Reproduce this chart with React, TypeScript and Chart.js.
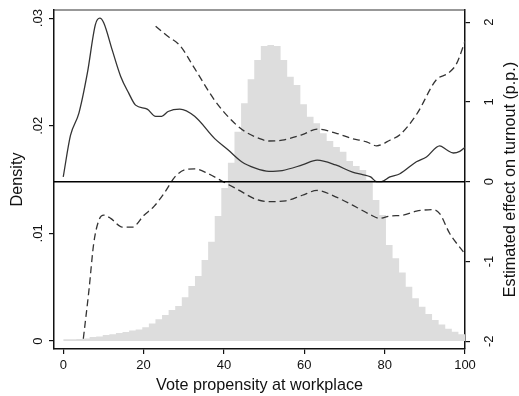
import React, { useEffect, useRef } from "react";
import { Chart, registerables } from "chart.js";

Chart.register(...registerables);

const FONT = '"Liberation Sans", Arial, Helvetica, sans-serif';

// Histogram of vote propensity at workplace (density, left axis)
const binCount = 61;
const binStart = 0;
const binEnd = 100;
const densityValues = [
  0.00016, 0.00016, 0.00019, 0.00023, 0.00037, 0.00042, 0.00056, 0.00062, 0.00074, 0.00084,
  0.00098, 0.00107, 0.00127, 0.00163, 0.00202, 0.00242, 0.00288, 0.00325, 0.00406, 0.00511,
  0.00604, 0.00753, 0.00923, 0.01162, 0.01422, 0.01657, 0.01945, 0.02209, 0.02432, 0.02612,
  0.02742, 0.02751, 0.02742, 0.02612, 0.02456, 0.02379, 0.02200, 0.02085, 0.02023, 0.01930,
  0.01859, 0.01803, 0.01759, 0.01673, 0.01626, 0.01589, 0.01496, 0.01310, 0.01171, 0.00892,
  0.00769, 0.00637, 0.00505, 0.00397, 0.00319, 0.00251, 0.00195, 0.00153, 0.00114, 0.00086,
  0.00062,
];

// Estimated effect on turnout (p.p., right axis)
const effectX = [0, 1.8, 3.9, 6.0, 8.0, 9.1, 10.1, 12.2, 14.3, 16.3, 18.0, 20.9, 23.0, 24.5, 26.1, 29.0, 32.7, 37.7, 41.0, 44.4, 47.8, 51.2, 54.5, 59.5, 63.2, 67.8, 72.0, 74.5, 76.5, 78.0, 79.2, 81.3, 83.8, 87.9, 90.4, 93.7, 95.4, 97.1, 98.7, 100];
const effectY = [0.06, 0.58, 0.86, 1.36, 1.97, 2.05, 1.99, 1.65, 1.32, 1.11, 0.96, 0.91, 0.82, 0.82, 0.88, 0.91, 0.82, 0.54, 0.40, 0.25, 0.17, 0.13, 0.14, 0.21, 0.27, 0.21, 0.12, 0.09, 0.06, 0.0, 0.0, 0.06, 0.10, 0.25, 0.31, 0.45, 0.40, 0.36, 0.38, 0.43];

const upperX = [23.0, 26.1, 29.0, 32.7, 37.7, 41.9, 45.2, 48.9, 51.2, 54.5, 59.5, 63.2, 67.8, 72.0, 75.5, 78.0, 81.3, 83.8, 87.9, 92.9, 95.8, 97.9, 100];
const upperY = [1.95, 1.82, 1.71, 1.42, 1.02, 0.77, 0.63, 0.54, 0.51, 0.52, 0.59, 0.66, 0.61, 0.54, 0.50, 0.45, 0.52, 0.59, 0.84, 1.28, 1.36, 1.48, 1.76];

const lowerX = [5.0, 6.4, 7.6, 8.9, 10.1, 11.8, 14.7, 17.2, 20.1, 22.6, 25.3, 27.8, 30.3, 32.7, 36.1, 39.4, 43.5, 47.9, 51.2, 55.4, 59.5, 63.2, 67.8, 73.0, 76.3, 78.8, 81.3, 84.6, 87.9, 92.1, 93.7, 96.2, 99.6];
const lowerY = [-1.97, -1.36, -0.77, -0.48, -0.42, -0.46, -0.57, -0.57, -0.42, -0.31, -0.13, 0.06, 0.15, 0.16, 0.10, 0.01, -0.10, -0.22, -0.25, -0.24, -0.17, -0.11, -0.19, -0.32, -0.41, -0.46, -0.43, -0.42, -0.37, -0.35, -0.40, -0.65, -0.88];

// Axes
const xMin = -2.3;
const xMax = 100;
const xTicks = [0, 20, 40, 60, 80, 100];
const xTickLabels = ["0", "20", "40", "60", "80", "100"];
const leftMin = -0.00074;
const leftMax = 0.03076;
const leftTicks = [0, 0.01, 0.02, 0.03];
const leftTickLabels = ["0", ".01", ".02", ".03"];
const rightMin = -2.098;
const rightMax = 2.153;
const rightTicks = [-2, -1, 0, 1, 2];
const rightTickLabels = ["-2", "-1", "0", "1", "2"];
const xTitle = "Vote propensity at workplace";
const leftTitle = "Density";
const rightTitle = "Estimated effect on turnout (p.p.)";

const pts = (xs: number[], ys: number[]) => xs.map((x, i) => ({ x, y: ys[i] }));

const textPlugin = {
  id: "stataText",
  afterDraw(chart: any) {
    const { ctx, chartArea, scales } = chart;
    const { left, right, top, bottom } = chartArea;
    ctx.save();
    // top frame line
    ctx.strokeStyle = "#333";
    ctx.lineWidth = 1.2;
    ctx.beginPath();
    ctx.moveTo(left, top);
    ctx.lineTo(right, top);
    ctx.stroke();

    ctx.fillStyle = "#111";
    ctx.textBaseline = "alphabetic";
    ctx.textAlign = "center";
    ctx.font = `13px ${FONT}`;
    xTicks.forEach((v, i) => {
      ctx.fillText(xTickLabels[i], scales.x.getPixelForValue(v), bottom + 20.3);
    });
    const rot = (txt: string, x: number, y: number) => {
      ctx.save();
      ctx.translate(x, y);
      ctx.rotate(-Math.PI / 2);
      ctx.fillText(txt, 0, 0);
      ctx.restore();
    };
    leftTicks.forEach((v, i) => rot(leftTickLabels[i], left - 12.2, scales.y.getPixelForValue(v)));
    rightTicks.forEach((v, i) => rot(rightTickLabels[i], right + 28, scales.y2.getPixelForValue(v)));

    ctx.font = `16.2px ${FONT}`;
    const midY = (top + bottom) / 2;
    ctx.fillText(xTitle, (left + right) / 2, 390);
    rot(leftTitle, 21.5, midY);
    rot(rightTitle, 515, midY);
    ctx.restore();
  },
};

export default function App() {
  const ref = useRef<HTMLCanvasElement>(null);
  useEffect(() => {
    const w = (binEnd - binStart) / binCount;
    // histogram drawn as a stepped, filled outline over the bin edges:
    // each bin's height spans from its left edge to the next edge
    const histPoints = densityValues.map((d, i) => ({ x: binStart + w * i, y: d }));
    histPoints.push({ x: binEnd, y: densityValues[densityValues.length - 1] });
    const axisGrid = {
      drawOnChartArea: false,
      drawTicks: true,
      tickLength: 5,
      color: "#111",
      lineWidth: 1.2,
      offset: false,
    };
    const axisBorder = { display: true, color: "#111", width: 1.5 };
    const chart = new Chart(ref.current as HTMLCanvasElement, {
      type: "line",
      data: {
        datasets: [
          {
            label: "zero",
            data: [{ x: xMin, y: 0 }, { x: xMax, y: 0 }],
            yAxisID: "y2",
            borderColor: "#000",
            borderWidth: 1.6,
            pointRadius: 0,
            order: 0,
          },
          {
            label: "Effect",
            data: pts(effectX, effectY),
            yAxisID: "y2",
            borderColor: "#333",
            borderWidth: 1.3,
            pointRadius: 0,
            cubicInterpolationMode: "monotone",
            order: 1,
          },
          {
            label: "Upper CI",
            data: pts(upperX, upperY),
            yAxisID: "y2",
            borderColor: "#333",
            borderWidth: 1.3,
            borderDash: [7, 4],
            pointRadius: 0,
            cubicInterpolationMode: "monotone",
            order: 2,
          },
          {
            label: "Lower CI",
            data: pts(lowerX, lowerY),
            yAxisID: "y2",
            borderColor: "#333",
            borderWidth: 1.3,
            borderDash: [7, 4],
            pointRadius: 0,
            cubicInterpolationMode: "monotone",
            order: 3,
          },
          {
            label: "Density",
            data: histPoints,
            yAxisID: "y",
            stepped: "before",
            fill: "origin",
            backgroundColor: "#dddddd",
            borderColor: "rgba(0,0,0,0)",
            borderWidth: 0,
            pointRadius: 0,
            order: 10,
          },
        ],
      } as any,
      options: {
        animation: false,
        responsive: false,
        devicePixelRatio: 1,
        layout: { padding: { top: 10, left: 0, right: 0, bottom: 0 } },
        plugins: { legend: { display: false }, tooltip: { enabled: false }, filler: { propagate: false } },
        scales: {
          x: {
            type: "linear",
            position: "bottom",
            min: xMin,
            max: xMax,
            offset: false,
            grid: axisGrid,
            border: axisBorder,
            ticks: { display: false },
            afterBuildTicks: (s: any) => {
              s.ticks = xTicks.map((v) => ({ value: v }));
            },
            afterFit: (s: any) => {
              s.height = 47;
            },
          },
          y: {
            type: "linear",
            position: "left",
            min: leftMin,
            max: leftMax,
            grid: axisGrid,
            border: axisBorder,
            ticks: { display: false },
            afterBuildTicks: (s: any) => {
              s.ticks = leftTicks.map((v) => ({ value: v }));
            },
            afterFit: (s: any) => {
              s.width = 54;
            },
          },
          y2: {
            type: "linear",
            position: "right",
            min: rightMin,
            max: rightMax,
            grid: axisGrid,
            border: axisBorder,
            ticks: { display: false },
            afterBuildTicks: (s: any) => {
              s.ticks = rightTicks.map((v) => ({ value: v }));
            },
            afterFit: (s: any) => {
              s.width = 54;
            },
          },
        },
      } as any,
      plugins: [textPlugin],
    });
    return () => chart.destroy();
  }, []);
  return (
    <div style={{ position: "absolute", left: 0, top: 0, width: 519, height: 396 }}>
      <canvas ref={ref} width={519} height={396} style={{ display: "block", width: 519, height: 396 }} />
    </div>
  );
}
